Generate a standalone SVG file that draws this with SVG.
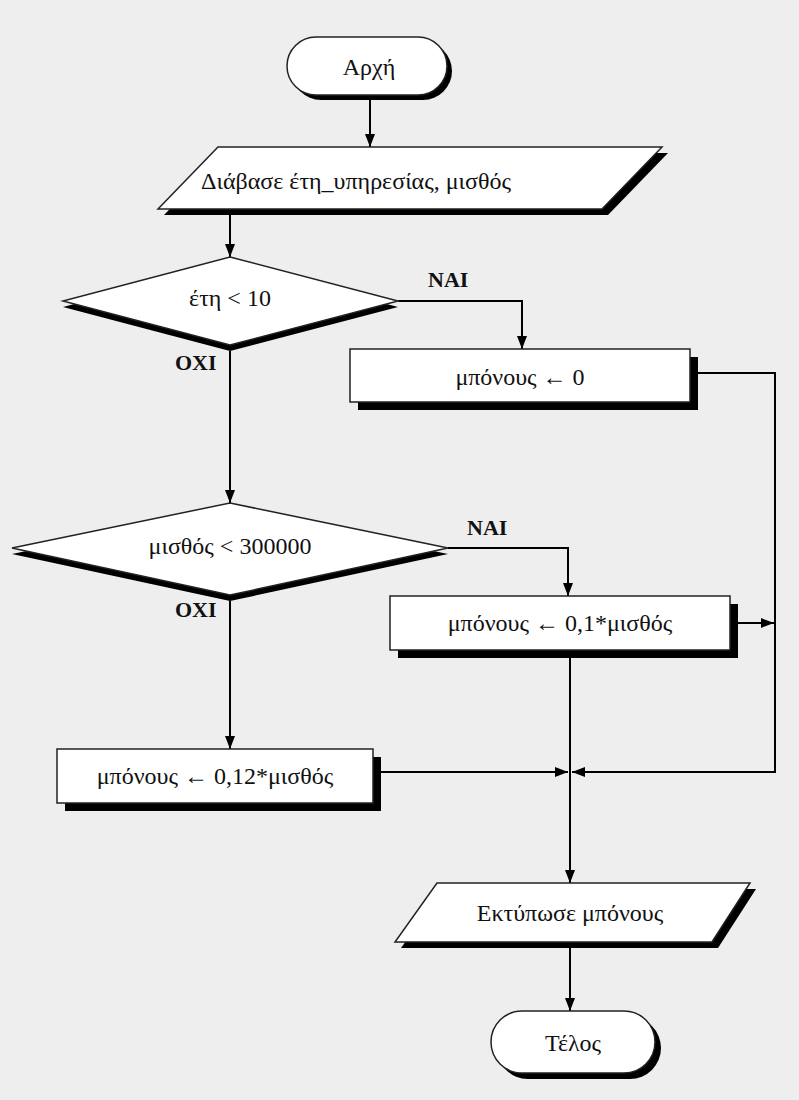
<svg xmlns="http://www.w3.org/2000/svg" width="799" height="1100" viewBox="0 0 799 1100">
<defs>
<marker id="arr" markerUnits="userSpaceOnUse" markerWidth="14" markerHeight="12" refX="13" refY="5" orient="auto">
<path d="M0,0 L13,5 L0,10 z" fill="#000"/>
</marker>
<style>
.sh{fill:#000;}
.nd{fill:#fff;stroke:#222;stroke-width:1.5;}
.t{font-family:"Liberation Serif","Times New Roman",serif;font-size:24px;fill:#111;text-anchor:middle;dominant-baseline:central;}
.lb{font-family:"Liberation Serif","Times New Roman",serif;font-size:22px;font-weight:bold;fill:#111;}
.c{fill:none;stroke:#000;stroke-width:2;}
</style>
</defs>
<rect x="0" y="0" width="799" height="1100" fill="#eeeeee"/>

<g id="connectors">
<line class="c" x1="370" y1="97" x2="370" y2="147" marker-end="url(#arr)"/>
<line class="c" x1="230" y1="215" x2="230" y2="257" marker-end="url(#arr)"/>
<polyline class="c" points="398,301 522,301 522,349" marker-end="url(#arr)"/>
<line class="c" x1="230" y1="351" x2="230" y2="503" marker-end="url(#arr)"/>
<polyline class="c" points="698,373 775,373 775,772 572,772" marker-end="url(#arr)"/>
<polyline class="c" points="448,548 568,548 568,596" marker-end="url(#arr)"/>
<line class="c" x1="738" y1="623" x2="774" y2="623" marker-end="url(#arr)"/>
<line class="c" x1="230" y1="601" x2="230" y2="749" marker-end="url(#arr)"/>
<line class="c" x1="381" y1="772" x2="568" y2="772" marker-end="url(#arr)"/>
<line class="c" x1="570" y1="658" x2="570" y2="883" marker-end="url(#arr)"/>
<line class="c" x1="570" y1="948" x2="570" y2="1011" marker-end="url(#arr)"/>
<text class="lb" x="428" y="287">ΝΑΙ</text>
<text class="lb" x="175" y="370">ΟΧΙ</text>
<text class="lb" x="467" y="535">ΝΑΙ</text>
<text class="lb" x="175" y="617">ΟΧΙ</text>
</g>

<g id="start">
<rect class="sh" x="292" y="42" width="160" height="58" rx="29"/>
<rect class="nd" x="287" y="37" width="160" height="58" rx="29"/>
<text class="t" x="369" y="67">Αρχή</text>
</g>

<g id="read">
<polygon class="sh" points="224,153 668,153 608,215 164,215"/>
<polygon class="nd" points="218,147 662,147 602,209 158,209"/>
<text class="t" x="356" y="181">Διάβασε έτη_υπηρεσίας, μισθός</text>
</g>

<g id="cond1">
<polygon class="sh" points="230,263 398,307 230,351 63,307"/>
<polygon class="nd" points="230,257 398,301 230,345 63,301"/>
<text class="t" x="230" y="298">έτη &lt; 10</text>
</g>

<g id="bonus0">
<rect class="sh" x="358" y="357" width="340" height="53"/>
<rect class="nd" x="350" y="349" width="340" height="53"/>
<text class="t" x="520" y="377">μπόνους ← 0</text>
</g>

<g id="cond2">
<polygon class="sh" points="230,509 448,554 230,601 12,554"/>
<polygon class="nd" points="230,503 448,548 230,595 12,548"/>
<text class="t" x="230" y="546">μισθός &lt; 300000</text>
</g>

<g id="bonus01">
<rect class="sh" x="398" y="604" width="340" height="54"/>
<rect class="nd" x="390" y="596" width="340" height="54"/>
<text class="t" x="560" y="623">μπόνους ← 0,1*μισθός</text>
</g>

<g id="bonus012">
<rect class="sh" x="65" y="757" width="316" height="54"/>
<rect class="nd" x="57" y="749" width="316" height="54"/>
<text class="t" x="215" y="776">μπόνους ← 0,12*μισθός</text>
</g>

<g id="print">
<polygon class="sh" points="443,889 756,889 718,948 401,948"/>
<polygon class="nd" points="437,883 750,883 712,942 395,942"/>
<text class="t" x="570" y="913">Εκτύπωσε μπόνους</text>
</g>

<g id="end">
<rect class="sh" x="497" y="1017" width="164" height="62" rx="31"/>
<rect class="nd" x="491" y="1011" width="164" height="62" rx="31"/>
<text class="t" x="573" y="1043">Τέλος</text>
</g>
</svg>
